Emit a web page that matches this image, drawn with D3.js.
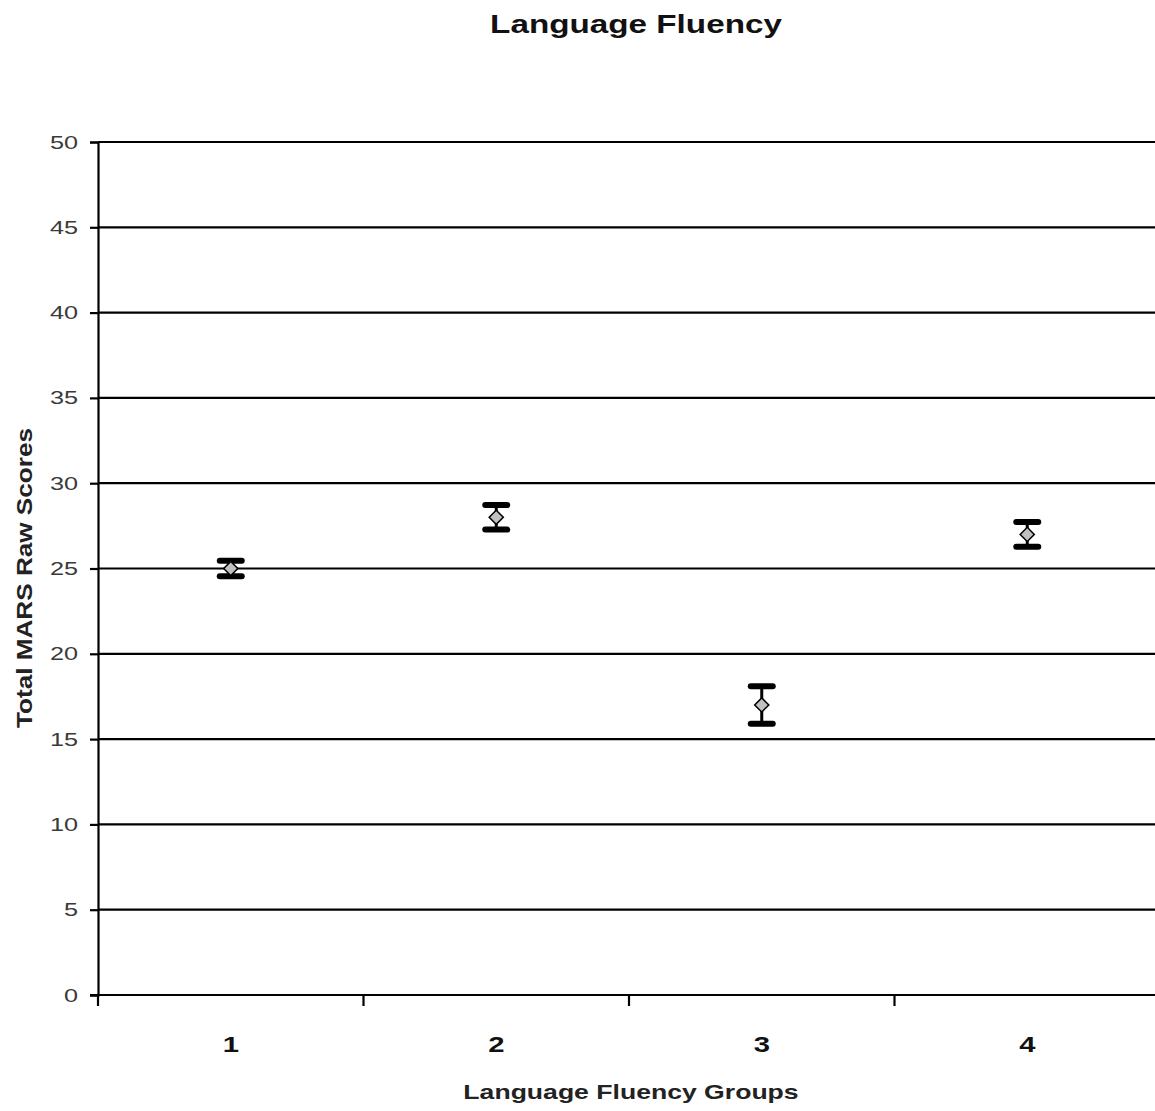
<!DOCTYPE html>
<html>
<head>
<meta charset="utf-8">
<script src="https://cdn.jsdelivr.net/npm/d3@7"></script>
<style>
  html, body { margin: 0; padding: 0; background: #fff; overflow: hidden; }
  svg { display: block; font-family: "Liberation Sans", Arial, Helvetica, sans-serif; }
</style>
</head>
<body>
<svg id="chart" width="1155" height="1111"></svg>
<script>
// Group means and standard errors of total MARS raw scores
const groups = ["1", "2", "3", "4"];
const means = [25, 28, 17, 27];
const errors = [0.45, 0.72, 1.1, 0.73];
const yTicks = [0, 5, 10, 15, 20, 25, 30, 35, 40, 45, 50];

const svg = d3.select("#chart");
const plotLeft = 98, plotTop = 142, plotBottom = 995, plotRight = 1160;
const sx = 1.33; // text is drawn horizontally widened

const x = d3.scaleBand().domain(groups).range([plotLeft, plotRight]).paddingInner(0).paddingOuter(0);
const y = d3.scaleLinear().domain([0, 50]).range([plotBottom, plotTop]);

// horizontal gridlines
svg.append("g")
  .selectAll("line")
  .data(yTicks)
  .join("line")
  .attr("x1", plotLeft).attr("x2", plotRight)
  .attr("y1", d => y(d)).attr("y2", d => y(d))
  .attr("stroke", "#000").attr("stroke-width", 2.2);

// y axis
const yPad = 20;
const yAxis = svg.append("g")
  .attr("transform", `translate(${plotLeft},0)`)
  .call(d3.axisLeft(y).tickValues(yTicks).tickSize(8).tickPadding(yPad));
yAxis.select(".domain").attr("stroke", "#000").attr("stroke-width", 2.2);
yAxis.selectAll(".tick line").attr("stroke", "#000").attr("stroke-width", 2.2);
yAxis.selectAll(".tick text")
  .attr("fill", "#3a3a3a").attr("font-size", 19)
  .attr("font-family", "'Liberation Sans', Arial, sans-serif")
  .attr("x", -yPad / sx)
  .attr("transform", `scale(${sx},1)`);

// x axis: ticks sit on category boundaries, labels centred in each band
const boundaries = groups.map(g => x(g)).concat([plotRight]);
const xAxisG = svg.append("g");
xAxisG.append("line")
  .attr("x1", plotLeft - 8).attr("x2", plotRight)
  .attr("y1", plotBottom).attr("y2", plotBottom)
  .attr("stroke", "#000").attr("stroke-width", 2.2);
xAxisG.selectAll("line.tk")
  .data(boundaries)
  .join("line")
  .attr("class", "tk")
  .attr("x1", d => d).attr("x2", d => d)
  .attr("y1", plotBottom).attr("y2", plotBottom + 11)
  .attr("stroke", "#000").attr("stroke-width", 2.2);
xAxisG.selectAll("text")
  .data(groups)
  .join("text")
  .attr("transform", d => `translate(${x(d) + x.bandwidth() / 2},1052) scale(${sx},1)`)
  .attr("text-anchor", "middle")
  .attr("font-size", 22).attr("font-weight", "bold").attr("fill", "#111")
  .text(d => d);

// error bars
const capHalf = 11;
const eb = svg.append("g")
  .selectAll("g")
  .data(groups.map((g, i) => ({ g, m: means[i], e: errors[i] })))
  .join("g")
  .attr("transform", d => `translate(${x(d.g) + x.bandwidth() / 2},0)`);
eb.append("line")
  .attr("y1", d => y(d.m + d.e)).attr("y2", d => y(d.m - d.e))
  .attr("stroke", "#000").attr("stroke-width", 3);
eb.selectAll("line.cap")
  .data(d => [d.m + d.e, d.m - d.e])
  .join("line")
  .attr("class", "cap")
  .attr("x1", -capHalf).attr("x2", capHalf)
  .attr("y1", v => y(v)).attr("y2", v => y(v))
  .attr("stroke", "#000").attr("stroke-width", 6).attr("stroke-linecap", "round");
eb.append("path")
  .attr("d", d3.symbol(d3.symbolSquare, 100))
  .attr("transform", d => `translate(0,${y(d.m)}) rotate(45)`)
  .attr("fill", "#c0c0c0").attr("stroke", "#000").attr("stroke-width", 1.5);

// titles
svg.append("text")
  .attr("transform", `translate(636,33) scale(${sx},1)`)
  .attr("text-anchor", "middle")
  .attr("font-size", 25).attr("font-weight", "bold").attr("fill", "#111")
  .text("Language Fluency");

svg.append("text")
  .attr("transform", `translate(631,1099) scale(${sx},1)`)
  .attr("text-anchor", "middle")
  .attr("font-size", 20).attr("font-weight", "bold").attr("fill", "#222")
  .text("Language Fluency Groups");

svg.append("text")
  .attr("transform", `translate(32,578) scale(${sx},1) rotate(-90)`)
  .attr("text-anchor", "middle")
  .attr("font-size", 17).attr("font-weight", "bold").attr("fill", "#222")
  .attr("textLength", 300).attr("lengthAdjust", "spacingAndGlyphs")
  .text("Total MARS Raw Scores");
</script>
</body>
</html>
